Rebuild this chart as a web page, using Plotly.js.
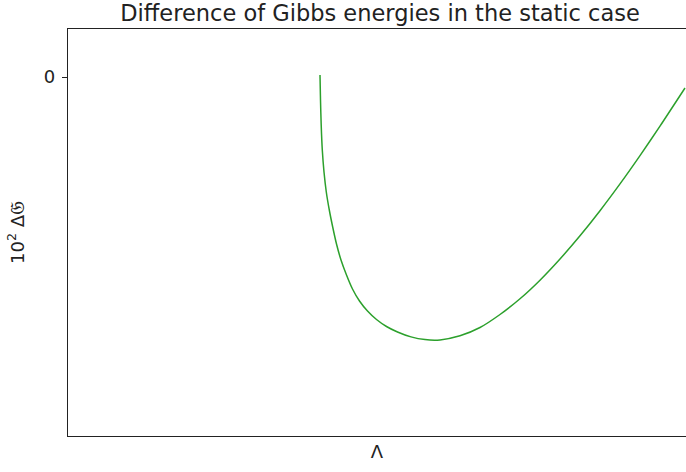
<!DOCTYPE html>
<html>
<head>
<meta charset="utf-8">
<script src="https://cdn.plot.ly/plotly-3.0.1.min.js"></script>
<style>html,body{margin:0;padding:0;background:#fff;}#chart{width:686px;height:472px;}</style>
</head>
<body>
<div id="chart"></div>
<script>
// Λ values (arbitrary units, no ticks shown in reference)
const lambdaValues = [2.520, 2.525, 2.532, 2.543, 2.560, 2.583, 2.613, 2.647, 2.685, 2.730, 2.785, 2.845, 2.915, 2.995, 3.085, 3.185, 3.295, 3.43, 3.57, 3.72, 3.92, 4.12, 4.32, 4.52, 4.72, 4.92, 5.12, 5.32, 5.52, 5.72, 5.92, 6.17];
// 10^2 ΔG values (arbitrary units, 0 marked)
const deltaG = [0.02, -0.23, -0.48, -0.73, -0.95, -1.15, -1.33, -1.50, -1.67, -1.83, -1.98, -2.12, -2.24, -2.34, -2.425, -2.495, -2.55, -2.599, -2.626, -2.629, -2.588, -2.505, -2.375, -2.218, -2.032, -1.82, -1.588, -1.337, -1.069, -0.786, -0.491, -0.11];
const yTickVals = [0];
const yTickText = ['0'];

const trace = {
  x: lambdaValues, y: deltaG, type: 'scatter', mode: 'lines',
  line: {color: '#2ca02c', width: 1.5, shape: 'spline', smoothing: 0.8},
  hoverinfo: 'none'
};
const layout = {
  width: 686, height: 472,
  margin: {l: 68, r: 0, t: 29, b: 36},
  paper_bgcolor: '#fff', plot_bgcolor: '#fff',
  font: {family: 'DejaVu Sans', size: 18, color: '#222'},
  showlegend: false,
  title: {text: 'Difference of Gibbs energies in the static case', font: {size: 22.5, color: '#222'},
          xref: 'container', x: 0.554, xanchor: 'center', yref: 'container', y: 0.9725, yanchor: 'middle'},
  xaxis: {range: [0, 6.18], showgrid: false, zeroline: false, showticklabels: false, ticks: '',
          showline: true, linecolor: '#222', linewidth: 1.2, mirror: true,
          title: {text: 'Λ', standoff: 9, font: {size: 18}}},
  yaxis: {range: [-3.59, 0.48], showgrid: false, zeroline: false, showline: true, linecolor: '#222', linewidth: 1.2,
          tickmode: 'array', tickvals: yTickVals, ticktext: yTickText, ticks: 'outside', ticklen: 5, tickcolor: '#222',
          ticklabelstandoff: 3, tickfont: {size: 18},
          title: {text: '10<sup>2</sup> Δ<span style="font-size:20px">𝔊</span>', standoff: 14, font: {size: 18}}}
};
Plotly.newPlot('chart', [trace], layout, {staticPlot: true});
</script>
</body>
</html>
